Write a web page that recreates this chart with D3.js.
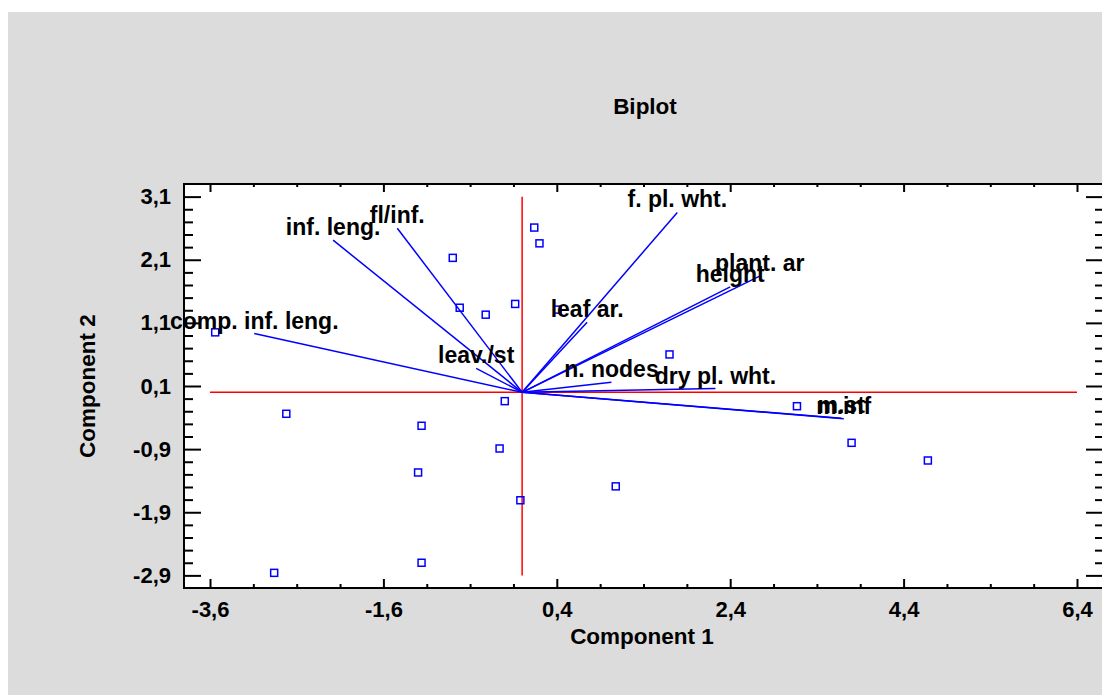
<!DOCTYPE html>
<html>
<head>
<meta charset="utf-8">
<script src="https://cdn.jsdelivr.net/npm/d3@7/dist/d3.min.js"></script>
<style>
  html, body { margin: 0; padding: 0; background: #ffffff; }
  svg { display: block; }
  text { font-family: "Liberation Sans", Arial, sans-serif; font-weight: bold; fill: #000; }
</style>
</head>
<body>
<svg id="chart" width="1102" height="695"></svg>
<script>
// Observation scores on the first two principal components
const scoreX = [-3.54, -2.72, -0.80, -0.72, -0.42, -0.08, 0.14, 0.20, -0.20, 0.41, 1.70,
                3.17, -1.16, -0.26, -1.20, -0.02, -1.16, -2.86, 3.80, 4.68, 1.08];
const scoreY = [0.95, -0.34, 2.13, 1.34, 1.23, 1.40, 2.61, 2.36, -0.14, 1.31, 0.60,
                -0.22, -0.53, -0.89, -1.27, -1.71, -2.70, -2.86, -0.80, -1.08, -1.49];

// Variable loadings (vector end points) and their names
const varNames = ["comp. inf. leng.", "inf. leng.", "fl/inf.", "leav./st", "f. pl. wht.",
                  "leaf ar.", "plant. ar", "height", "n. nodes", "dry pl. wht.", "m.inf", "m.st"];
const varX = [-3.09, -2.18, -1.44, -0.53, 1.79, 0.75, 2.74, 2.40, 1.03, 2.23, 3.71, 3.68];
const varY = [0.93, 2.41, 2.60, 0.38, 2.85, 1.11, 1.84, 1.67, 0.16, 0.06, -0.42, -0.41];

// Axis ticks
const xMajor = [-3.6, -1.6, 0.4, 2.4, 4.4, 6.4];
const yMajor = [-2.9, -1.9, -0.9, 0.1, 1.1, 2.1, 3.1];

const chartTitle = "Biplot";
const xTitle = "Component 1";
const yTitle = "Component 2";

const svg = d3.select("#chart");
const W = 1102, H = 695;
const pL = 184, pR = 1103, pT = 184, pB = 588;

const x = d3.scaleLinear().domain([-3.9, 6.7]).range([pL, pR]);
const y = d3.scaleLinear().domain([-3.1, 3.3]).range([pB, pT]);

const locale = d3.formatLocale({decimal: ",", thousands: ".", grouping: [3], currency: ["", ""], minus: "-"});
const fmt = locale.format(".1f");

const xMinor = d3.range(0, 21).map(i => +(xMajor[0] + i * 0.5).toFixed(2))
  .filter(v => !xMajor.some(m => Math.abs(m - v) < 1e-6));
const yMinor = d3.range(0, 31).map(i => +(yMajor[0] + i * 0.2).toFixed(2))
  .filter(v => !yMajor.some(m => Math.abs(m - v) < 1e-6));

// Panel background
svg.append("rect").attr("x", 8).attr("y", 12).attr("width", W - 8).attr("height", H - 12).attr("fill", "#dcdcdc");
svg.append("rect").attr("x", pL).attr("y", pT).attr("width", pR - pL).attr("height", pB - pT).attr("fill", "#ffffff");

// Title and axis titles
svg.append("text").attr("x", 645).attr("y", 114).attr("text-anchor", "middle").style("font-size", "22.5px").text(chartTitle);
svg.append("text").attr("x", 642).attr("y", 644).attr("text-anchor", "middle").style("font-size", "22.5px").text(xTitle);
svg.append("text").attr("transform", "translate(95,386) rotate(-90)").attr("text-anchor", "middle").style("font-size", "22.5px").text(yTitle);

function styleAxis(g) {
  g.select(".domain").remove();
  g.selectAll(".tick line").attr("stroke", "#000").attr("stroke-width", 2);
  g.selectAll(".tick text").style("font-size", "22px").style("font-weight", "bold")
    .style("font-family", "'Liberation Sans', Arial, sans-serif").attr("fill", "#000");
}

// Bottom axis
svg.append("g").attr("transform", `translate(0,${pB})`)
  .call(d3.axisBottom(x).tickValues(xMinor).tickSize(-4).tickFormat("")).call(styleAxis);
svg.append("g").attr("transform", `translate(0,${pB})`)
  .call(d3.axisBottom(x).tickValues(xMajor).tickSize(-9).tickPadding(13).tickFormat(fmt)).call(styleAxis);
// Top axis
svg.append("g").attr("transform", `translate(0,${pT})`)
  .call(d3.axisTop(x).tickValues(xMinor).tickSize(-3).tickFormat("")).call(styleAxis);
svg.append("g").attr("transform", `translate(0,${pT})`)
  .call(d3.axisTop(x).tickValues(xMajor).tickSize(-8).tickFormat("")).call(styleAxis);
// Left axis
svg.append("g").attr("transform", `translate(${pL},0)`)
  .call(d3.axisLeft(y).tickValues(yMinor).tickSize(-9).tickFormat("")).call(styleAxis);
svg.append("g").attr("transform", `translate(${pL},0)`)
  .call(d3.axisLeft(y).tickValues(yMajor).tickSize(-17).tickPadding(13).tickFormat(fmt)).call(styleAxis);
// Right axis
svg.append("g").attr("transform", `translate(${pR},0)`)
  .call(d3.axisRight(y).tickValues(yMinor).tickSize(-8).tickFormat("")).call(styleAxis);
svg.append("g").attr("transform", `translate(${pR},0)`)
  .call(d3.axisRight(y).tickValues(yMajor).tickSize(-17).tickFormat("")).call(styleAxis);

// Frame
svg.append("rect").attr("x", pL).attr("y", pT).attr("width", pR - pL).attr("height", pB - pT)
  .attr("fill", "none").attr("stroke", "#000").attr("stroke-width", 2);

// Reference lines through the origin
const plot = svg.append("g");
plot.append("line").attr("x1", x(xMajor[0])).attr("x2", x(xMajor[xMajor.length - 1]))
  .attr("y1", y(0)).attr("y2", y(0)).attr("stroke", "#ff0000").attr("stroke-width", 1.5);
plot.append("line").attr("x1", x(0)).attr("x2", x(0))
  .attr("y1", y(yMajor[0])).attr("y2", y(yMajor[yMajor.length - 1])).attr("stroke", "#ff0000").attr("stroke-width", 1.5);

// Observation markers
const scores = scoreX.map((v, i) => ({sx: v, sy: scoreY[i]}));
plot.selectAll("rect.pt").data(scores).join("rect").attr("class", "pt")
  .attr("x", d => x(d.sx) - 3.5).attr("y", d => y(d.sy) - 3.5)
  .attr("width", 7).attr("height", 7)
  .attr("fill", "none").attr("stroke", "#0000ff").attr("stroke-width", 1.5);

// Loading vectors
const vars = varNames.map((n, i) => ({name: n, vx: varX[i], vy: varY[i]}));
plot.selectAll("line.vec").data(vars).join("line").attr("class", "vec")
  .attr("x1", x(0)).attr("y1", y(0))
  .attr("x2", d => x(d.vx)).attr("y2", d => y(d.vy))
  .attr("stroke", "#0000ff").attr("stroke-width", 1.5);

plot.selectAll("text.vlab").data(vars).join("text").attr("class", "vlab")
  .attr("x", d => x(d.vx)).attr("y", d => y(d.vy) - 5)
  .attr("text-anchor", "middle").style("font-size", "23px")
  .text(d => d.name);
</script>
</body>
</html>
